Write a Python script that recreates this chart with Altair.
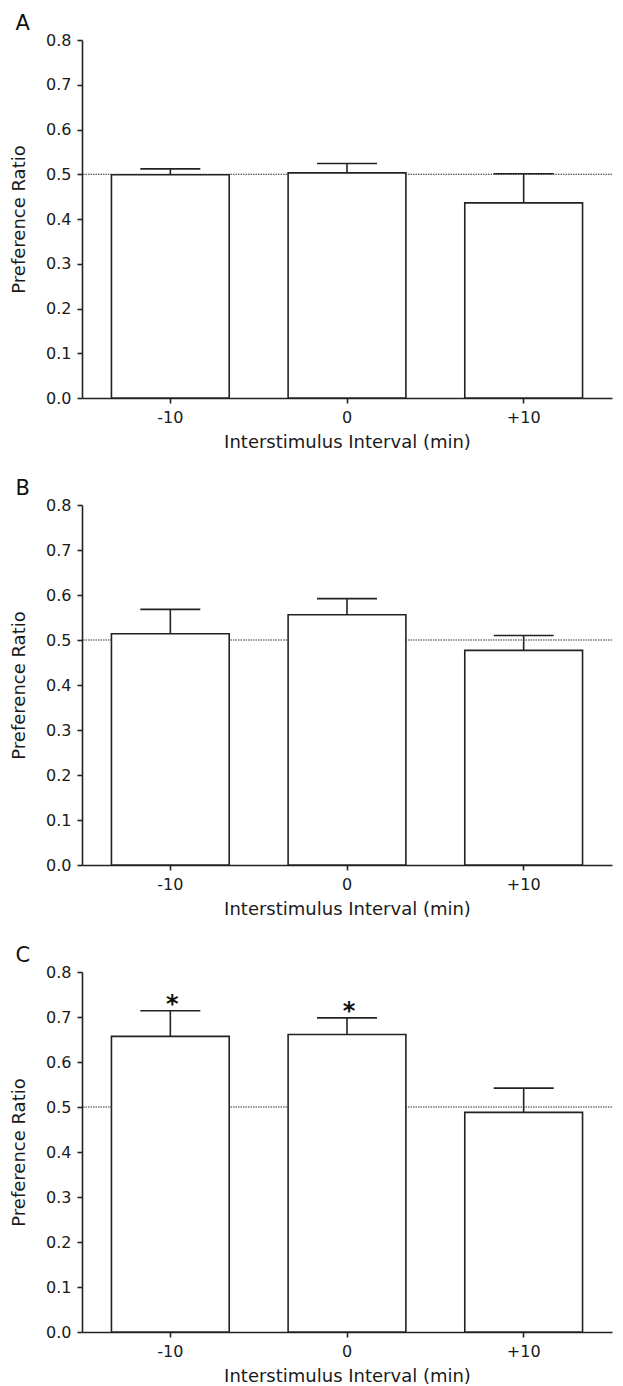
import altair as alt
import pandas as pd

categories = ["-10", "0", "+10"]
panel_labels = ["A", "B", "C"]
a_mean = [0.499, 0.503, 0.436]
a_upper = [0.512, 0.524, 0.501]
b_mean = [0.514, 0.556, 0.477]
b_upper = [0.568, 0.592, 0.510]
c_mean = [0.657, 0.661, 0.488]
c_upper = [0.714, 0.698, 0.542]
a_marks = ["", "", ""]
b_marks = ["", "", ""]
c_marks = ["*", "*", ""]
y_ticks = [0.0, 0.1, 0.2, 0.3, 0.4, 0.5, 0.6, 0.7, 0.8]
chance_level = [0.5]

FONT = "DejaVu Sans"
INK = "#222222"


def panel(letter, means, uppers, marks, height):
    df = pd.DataFrame({"isi": categories, "mean": means, "upper": uppers, "mark": marks})
    ref_df = pd.DataFrame({"level": chance_level})
    yscale = alt.Scale(domain=[0, 0.8], nice=False, zero=True)
    xenc = alt.X(
        "isi:N",
        sort=categories,
        title="Interstimulus Interval (min)",
        scale=alt.Scale(paddingInner=1 / 3, paddingOuter=1 / 6),
        axis=alt.Axis(labelAngle=0, labelPadding=6, titlePadding=8, titleFontSize=18),
    )
    yaxis = alt.Axis(values=y_ticks, format=".1f", grid=False, labelPadding=6,
                     titlePadding=17, titleFontSize=18, title="Preference Ratio")
    ref = alt.Chart(ref_df).mark_rule(color="#333333", strokeWidth=1.2, strokeDash=[1.5, 1]).encode(
        y=alt.Y("level:Q", scale=yscale, axis=yaxis)
    )
    base = alt.Chart(df)
    bars = base.mark_bar(fill="white", stroke=INK, strokeWidth=1.6).encode(
        x=xenc, y=alt.Y("mean:Q", scale=yscale, axis=yaxis)
    )
    err = base.mark_rule(color=INK, strokeWidth=1.6).encode(
        x=alt.X("isi:N", sort=categories), y="mean:Q", y2="upper:Q"
    )
    cap = base.mark_tick(color=INK, thickness=1.6, size=60, opacity=1, orient="horizontal").encode(
        x=alt.X("isi:N", sort=categories), y="upper:Q"
    )
    star = base.mark_text(font=FONT, fontSize=24, fontWeight="bold", dy=1, dx=2,
                          baseline="alphabetic", color="#111111").encode(
        x=alt.X("isi:N", sort=categories), y="upper:Q", text="mark:N"
    )
    return alt.layer(ref, bars, err, cap, star).properties(
        width=530,
        height=height,
        title=alt.TitleParams(letter, anchor="start", frame="bounds", fontSize=21,
                              font=FONT, fontWeight="normal", color="#111111", dx=5, offset=-2),
    )


chart = alt.vconcat(
    panel(panel_labels[0], a_mean, a_upper, a_marks, 358),
    panel(panel_labels[1], b_mean, b_upper, b_marks, 360),
    panel(panel_labels[2], c_mean, c_upper, c_marks, 360),
    spacing=27,
).properties(
    padding={"left": 2, "top": 5, "right": 0, "bottom": 0}
).configure_view(stroke=None).configure_axis(
    domainColor=INK, domainWidth=1.6, tickColor=INK, tickWidth=1.6, tickSize=5,
    labelFont=FONT, labelFontSize=16, labelColor="#1a1a1a",
    titleFont=FONT, titleFontWeight="normal", titleColor="#1a1a1a",
)

chart.save("out.html", embed_options={"renderer": "svg", "actions": False})
